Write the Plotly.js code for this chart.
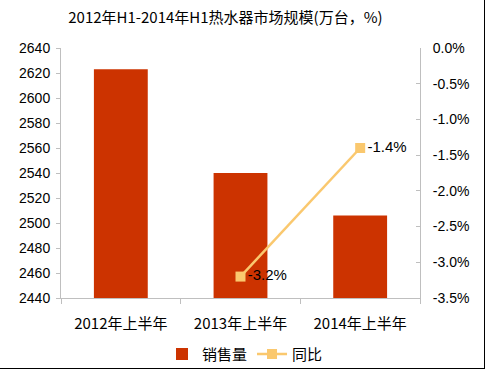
<!DOCTYPE html>
<html>
<head>
<meta charset="utf-8">
<script src="https://cdn.plot.ly/plotly-3.0.1.min.js"></script>
<style>
  html, body { margin: 0; padding: 0; background: #fff; }
  #chart { width: 490px; height: 373px; position: relative; }
  #frame { position: absolute; left: -2px; top: -2px; width: 487px; height: 371px; border-right: 1.5px solid #000; border-bottom: 1.5px solid #000; pointer-events: none; box-sizing: border-box; }
</style>
</head>
<body>
<div id="chart"></div>
<div id="frame"></div>
<script>
const categories = ['2012年上半年', '2013年上半年', '2014年上半年'];
const salesVolume = [2623, 2540, 2506];
const yoyCategories = ['2013年上半年', '2014年上半年'];
const yoyGrowth = [-3.2, -1.4];
const yoyLabels = ['-3.2%', '-1.4%'];
const leftTicks = [2440, 2460, 2480, 2500, 2520, 2540, 2560, 2580, 2600, 2620, 2640];
const rightTicks = [0, -0.5, -1.0, -1.5, -2.0, -2.5, -3.0, -3.5];
const rightTickText = ['0.0%', '-0.5%', '-1.0%', '-1.5%', '-2.0%', '-2.5%', '-3.0%', '-3.5%'];

const cjk = '"Noto Sans CJK SC", sans-serif';
const latin = '"Liberation Sans", Arial, sans-serif';

const data = [
  {
    type: 'bar', name: '销售量', x: categories, y: salesVolume,
    marker: { color: '#CC3300', line: { width: 0 } },
    width: 0.45, yaxis: 'y', hoverinfo: 'none'
  },
  {
    type: 'scatter', mode: 'lines+markers+text', name: '同比',
    x: yoyCategories, y: yoyGrowth, yaxis: 'y2',
    line: { color: '#FAC86E', width: 2.5 },
    marker: { symbol: 'square', size: 10, color: '#FAC86E' },
    text: yoyLabels, textposition: 'middle right',
    textfont: { family: latin, size: 15, color: '#000' },
    cliponaxis: false, hoverinfo: 'none'
  }
];

const layout = {
  width: 490, height: 373,
  margin: { l: 61, r: 70, t: 48, b: 75, autoexpand: false },
  paper_bgcolor: '#fff', plot_bgcolor: '#fff',
  showlegend: true,
  title: { text: '2012年H1-2014年H1热水器市场规模(万台，%)', x: 0.46, xanchor: 'center', y: 0.952, yanchor: 'middle',
           font: { family: cjk, size: 15, color: '#000' } },
  xaxis: {
    type: 'category', showgrid: false, showline: true, linecolor: '#BFBFBF', linewidth: 1,
    ticks: 'outside', tickson: 'boundaries', ticklen: 5, tickcolor: '#BFBFBF',
    ticklabelstandoff: 12,
    tickfont: { family: cjk, size: 15, color: '#000' }, zeroline: false
  },
  yaxis: {
    range: [2440, 2640], tickvals: leftTicks, showgrid: false, zeroline: false,
    showline: true, linecolor: '#BFBFBF', linewidth: 1,
    ticks: 'outside', ticklen: 4, tickcolor: '#BFBFBF', ticklabelstandoff: 3,
    tickfont: { family: latin, size: 14, color: '#000' }
  },
  yaxis2: {
    overlaying: 'y', side: 'right', range: [-3.5, 0], tickvals: rightTicks, ticktext: rightTickText,
    showgrid: false, zeroline: false, showline: true, linecolor: '#BFBFBF', linewidth: 1,
    ticks: 'inside', ticklen: 4, tickcolor: '#BFBFBF', ticklabelstandoff: 9,
    tickfont: { family: latin, size: 14, color: '#000' }
  },
  legend: {
    orientation: 'h', xref: 'container', yref: 'container', x: 0.5, xanchor: 'center', y: 0.05, yanchor: 'middle',
    font: { family: cjk, size: 15, color: '#000' }, itemwidth: 30, traceorder: 'normal'
  }
};

Plotly.newPlot('chart', data, layout, { staticPlot: true, displayModeBar: false });
</script>
</body>
</html>
